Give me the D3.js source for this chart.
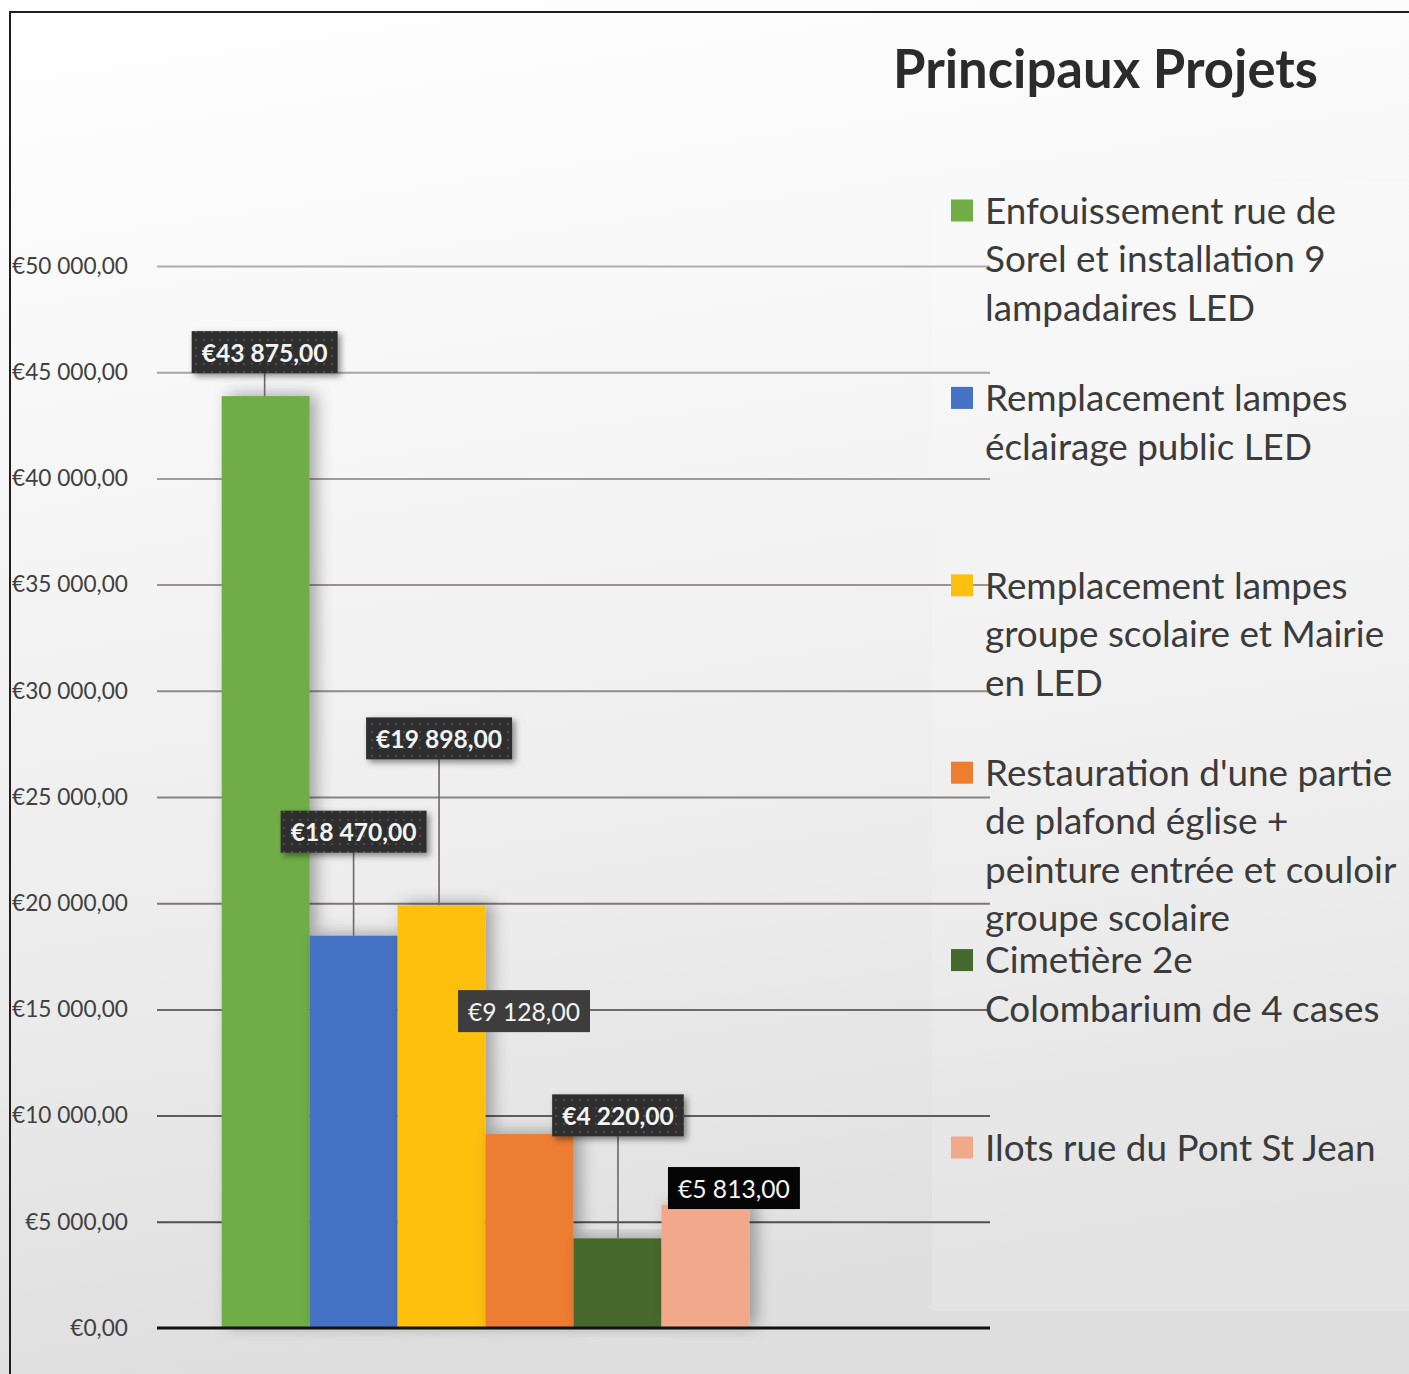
<!DOCTYPE html>
<html>
<head>
<meta charset="utf-8">
<script src="https://cdn.jsdelivr.net/npm/d3@7"></script>
<style>
  html, body { margin: 0; padding: 0; background: #fff; }
  svg { display: block; }
</style>
</head>
<body>
<div id="chart"></div>
<script>
// ---------------- DATA ----------------
const title = "Principaux Projets";
const categories = [
  "Enfouissement rue de\nSorel et installation 9\nlampadaires LED",
  "Remplacement lampes\néclairage public LED",
  "Remplacement lampes\ngroupe scolaire et Mairie\nen LED",
  "Restauration d'une partie\nde plafond église +\npeinture entrée et couloir\ngroupe scolaire",
  "Cimetière 2e\nColombarium de 4 cases",
  "Ilots rue du Pont St Jean"
];
const values = [43875, 18470, 19898, 9128, 4220, 5813];
const yTicks = [0, 5000, 10000, 15000, 20000, 25000, 30000, 35000, 40000, 45000, 50000];

// ---------------- STYLE / LAYOUT ----------------
const colors = ["#70ad47", "#4472c4", "#fec00f", "#ed7d31", "#46692d", "#f2a88a"];
const labelStyle = ["dots", "dots", "dots", "plain", "dots", "black"];
const labelBold = [true, true, true, false, true, false];
const labelLeader = [true, true, true, false, true, false];
// label box offset relative to bar top-centre: [dx px, gap px between box bottom and bar top]
const labelOffsets = [[-1, 23], [0, 83], [-2.5, 146], [-5.5, 102], [0.5, 102], [28.5, -4.5]];

const W = 1409, H = 1374;
const plot = { left: 157, right: 990, top: 266, bottom: 1328 };
const slotCount = 8;               // chart has 8 series slots, 6 used
const FONT = "Lato, 'Open Sans', sans-serif";

const svg = d3.select("#chart").append("svg")
  .attr("width", W).attr("height", H)
  .attr("viewBox", `0 0 ${W} ${H}`);

const defs = svg.append("defs");
const bg = defs.append("linearGradient").attr("id", "bg")
  .attr("x1", 0).attr("y1", 0).attr("x2", 0.15).attr("y2", 1);
bg.append("stop").attr("offset", "0%").attr("stop-color", "#ffffff");
bg.append("stop").attr("offset", "35%").attr("stop-color", "#f6f6f6");
bg.append("stop").attr("offset", "70%").attr("stop-color", "#ececec");
bg.append("stop").attr("offset", "100%").attr("stop-color", "#dfdfdf");

const dots = defs.append("pattern").attr("id", "dots")
  .attr("width", 8).attr("height", 8).attr("patternUnits", "userSpaceOnUse");
dots.append("rect").attr("width", 8).attr("height", 8).attr("fill", "#2f2f2f");
dots.append("circle").attr("cx", 4).attr("cy", 4).attr("r", 0.9).attr("fill", "#5c5c5c");

const barShadow = defs.append("filter").attr("id", "barShadow")
  .attr("x", "-20%").attr("y", "-10%").attr("width", "160%").attr("height", "120%");
barShadow.append("feDropShadow").attr("dx", 7).attr("dy", -2)
  .attr("stdDeviation", 8).attr("flood-color", "#000").attr("flood-opacity", 0.32);

const boxShadow = defs.append("filter").attr("id", "boxShadow")
  .attr("x", "-20%").attr("y", "-30%").attr("width", "150%").attr("height", "180%");
boxShadow.append("feDropShadow").attr("dx", 3).attr("dy", 3)
  .attr("stdDeviation", 3).attr("flood-color", "#000").attr("flood-opacity", 0.45);

// background
svg.append("rect").attr("width", W).attr("height", H).attr("fill", "url(#bg)");
// lighter legend panel
svg.append("rect").attr("x", 932).attr("y", 183).attr("width", W - 932).attr("height", 1128)
  .attr("fill", "#ffffff").attr("opacity", 0.14);

// frame (top & left)
svg.append("path").attr("d", `M10,${H} V12 H${W}`)
  .attr("fill", "none").attr("stroke", "#1e1e1e").attr("stroke-width", 2);

// helper: fit font size to a measured target width
function fitSize(str, weight, target) {
  const t = svg.append("text").attr("font-family", FONT).attr("font-weight", weight)
    .attr("font-size", 100).text(str);
  const w = t.node().getComputedTextLength();
  t.remove();
  return 100 * target / w;
}

// ---------------- SCALES ----------------
const y = d3.scaleLinear().domain([0, 50000]).range([plot.bottom, plot.top]);
const slot = (plot.right - plot.left) / (slotCount + 1.47);
const clusterLeft = plot.left + ((plot.right - plot.left) - slot * slotCount) / 2;
const x = d3.scaleBand().domain(d3.range(values.length))
  .range([clusterLeft, clusterLeft + slot * values.length]).padding(0);

const locale = d3.formatLocale({ decimal: ",", thousands: " ", grouping: [3], currency: ["€", ""] });
const fmt = locale.format("$,.2f");

// ---------------- AXIS / GRID ----------------
const tickFs = fitSize(fmt(50000), 400, 116);
const gridColor = d3.scaleLinear().domain([50000, 25000, 5000]).range(["#b3abaa", "#8a8383", "#505050"]);

const axis = d3.axisLeft(y).tickValues(yTicks).tickFormat(fmt)
  .tickSize(-(plot.right - plot.left)).tickPadding(29);
const gAxis = svg.append("g").attr("transform", `translate(${plot.left},0)`).call(axis);
gAxis.select(".domain").remove();
gAxis.selectAll(".tick line")
  .attr("stroke", d => gridColor(d)).attr("stroke-width", 2)
  .attr("display", d => d === 0 ? "none" : null);
gAxis.selectAll(".tick text")
  .attr("font-family", FONT).attr("font-size", tickFs).attr("fill", "#404040");

// ---------------- BARS ----------------
svg.append("g").selectAll("rect").data(values).join("rect")
  .attr("x", (d, i) => x(i)).attr("width", x.bandwidth())
  .attr("y", d => y(d)).attr("height", d => y(0) - y(d))
  .attr("fill", (d, i) => colors[i])
  .attr("filter", "url(#barShadow)");

// baseline
svg.append("line").attr("x1", plot.left).attr("x2", plot.right)
  .attr("y1", y(0)).attr("y2", y(0)).attr("stroke", "#111").attr("stroke-width", 3);

// ---------------- DATA LABELS ----------------
const boldFs = fitSize(fmt(43875), 700, 126);
const regFs = fitSize(fmt(9128), 400, 112);
const boxH = 42, padX = 10;

const gLab = svg.append("g");
values.forEach((v, i) => {
  const cx = x(i) + x.bandwidth() / 2 + labelOffsets[i][0];
  const boxBottom = y(v) - labelOffsets[i][1];
  const boxTop = boxBottom - boxH;
  const g = gLab.append("g");
  const t = g.append("text")
    .attr("x", cx).attr("y", boxTop + boxH / 2)
    .attr("text-anchor", "middle").attr("dominant-baseline", "central")
    .attr("font-family", FONT).attr("font-weight", labelBold[i] ? 700 : 400)
    .attr("font-size", labelBold[i] ? boldFs : regFs)
    .attr("fill", "#f4f4f4").text(fmt(v));
  const tw = t.node().getComputedTextLength();
  const fill = labelStyle[i] === "dots" ? "url(#dots)" : (labelStyle[i] === "black" ? "#050505" : "#3d3d3d");
  if (labelLeader[i]) {
    g.insert("line", "text").attr("x1", cx).attr("x2", cx)
      .attr("y1", boxBottom).attr("y2", y(v))
      .attr("stroke", "#6e6868").attr("stroke-width", 1.6);
  }
  g.insert("rect", "text")
    .attr("x", cx - tw / 2 - padX).attr("y", boxTop)
    .attr("width", tw + 2 * padX).attr("height", boxH)
    .attr("fill", fill)
    .attr("filter", labelStyle[i] === "dots" ? "url(#boxShadow)" : null);
});

// ---------------- TITLE ----------------
const titleFs = fitSize(title, 700, 425);
svg.append("text").attr("x", 893).attr("y", 88)
  .attr("font-family", FONT).attr("font-weight", 700).attr("font-size", titleFs)
  .attr("fill", "#2b2b2b").text(title);

// ---------------- LEGEND ----------------
const legFs = fitSize("Enfouissement rue de", 400, 351);
const legTop = 210.5, legStep = 187.4, lineH = 48.5;
const gLeg = svg.append("g");
categories.forEach((name, i) => {
  const cy = legTop + i * legStep;
  gLeg.append("rect").attr("x", 951).attr("y", cy - 11).attr("width", 22).attr("height", 22)
    .attr("fill", colors[i]);
  const t = gLeg.append("text").attr("font-family", FONT).attr("font-size", legFs)
    .attr("fill", "#3b3b3b");
  name.split("\n").forEach((ln, j) => {
    t.append("tspan").attr("x", 985).attr("y", cy + legFs * 0.36 + j * lineH).text(ln);
  });
});
</script>
</body>
</html>
